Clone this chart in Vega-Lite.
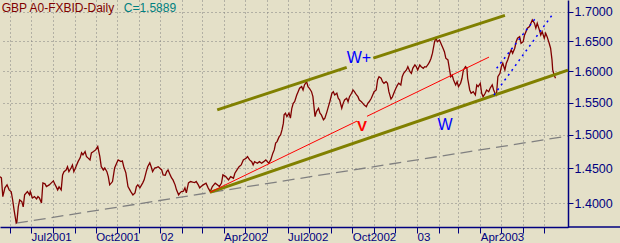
{
  "$schema": "https://vega.github.io/schema/vega-lite/v6.json",
  "width": 568,
  "height": 227,
  "autosize": {"type": "none"},
  "padding": {"left": 0, "top": 0, "right": 52, "bottom": 16},
  "background": "#E4E0C8",
  "config": {"view": {"stroke": null}, "font": "Liberation Sans", "axis": {"labelFont": "Liberation Sans"}},
  "datasets": {
    "price": [
      {"date":"2001-05-18","price":1.4380},{"date":"2001-05-20","price":1.4361},{"date":"2001-05-22","price":1.4091},{"date":"2001-05-25","price":1.4217},{"date":"2001-05-28","price":1.4260},{"date":"2001-05-31","price":1.4188},{"date":"2001-06-03","price":1.4159},{"date":"2001-06-05","price":1.4043},{"date":"2001-06-07","price":1.3902},{"date":"2001-06-10","price":1.3720},{"date":"2001-06-11","price":1.3734},{"date":"2001-06-13","price":1.3944},{"date":"2001-06-15","price":1.4043},{"date":"2001-06-18","price":1.4019},{"date":"2001-06-20","price":1.3944},{"date":"2001-06-22","price":1.4116},{"date":"2001-06-26","price":1.4163},{"date":"2001-06-29","price":1.4116},{"date":"2001-06-30","price":1.4163},
      {"date":"2001-07-03","price":1.4072},{"date":"2001-07-06","price":1.4091},{"date":"2001-07-09","price":1.4058},{"date":"2001-07-11","price":1.4091},{"date":"2001-07-13","price":1.4072},{"date":"2001-07-16","price":1.4000},{"date":"2001-07-18","price":1.4289},{"date":"2001-07-21","price":1.4275},{"date":"2001-07-23","price":1.4236},{"date":"2001-07-27","price":1.4260},{"date":"2001-07-30","price":1.4289},
      {"date":"2001-08-02","price":1.4318},{"date":"2001-08-03","price":1.4289},{"date":"2001-08-06","price":1.4231},{"date":"2001-08-08","price":1.4188},{"date":"2001-08-10","price":1.4231},{"date":"2001-08-13","price":1.4188},{"date":"2001-08-15","price":1.4405},{"date":"2001-08-17","price":1.4452},{"date":"2001-08-20","price":1.4477},{"date":"2001-08-22","price":1.4525},{"date":"2001-08-24","price":1.4452},{"date":"2001-08-27","price":1.4506},{"date":"2001-08-29","price":1.4551},{"date":"2001-08-31","price":1.4452},
      {"date":"2001-09-03","price":1.4525},{"date":"2001-09-06","price":1.4600},{"date":"2001-09-09","price":1.4656},{"date":"2001-09-11","price":1.4731},{"date":"2001-09-13","price":1.4701},{"date":"2001-09-16","price":1.4750},{"date":"2001-09-18","price":1.4675},{"date":"2001-09-20","price":1.4656},{"date":"2001-09-23","price":1.4626},{"date":"2001-09-25","price":1.4731},{"date":"2001-09-28","price":1.4750},
      {"date":"2001-10-01","price":1.4775},{"date":"2001-10-04","price":1.4825},{"date":"2001-10-07","price":1.4675},{"date":"2001-10-09","price":1.4525},{"date":"2001-10-12","price":1.4477},{"date":"2001-10-14","price":1.4506},{"date":"2001-10-17","price":1.4452},{"date":"2001-10-19","price":1.4380},{"date":"2001-10-21","price":1.4260},{"date":"2001-10-25","price":1.4308},{"date":"2001-10-28","price":1.4506},{"date":"2001-10-31","price":1.4581},
      {"date":"2001-11-02","price":1.4626},{"date":"2001-11-06","price":1.4600},{"date":"2001-11-08","price":1.4610},{"date":"2001-11-10","price":1.4525},{"date":"2001-11-13","price":1.4434},{"date":"2001-11-16","price":1.4236},{"date":"2001-11-20","price":1.4163},{"date":"2001-11-23","price":1.4116},{"date":"2001-11-26","price":1.4145},{"date":"2001-11-28","price":1.4236},{"date":"2001-11-30","price":1.4260},
      {"date":"2001-12-03","price":1.4217},{"date":"2001-12-07","price":1.4289},{"date":"2001-12-09","price":1.4332},{"date":"2001-12-12","price":1.4452},{"date":"2001-12-14","price":1.4525},{"date":"2001-12-17","price":1.4581},{"date":"2001-12-19","price":1.4525},{"date":"2001-12-21","price":1.4452},{"date":"2001-12-24","price":1.4506},{"date":"2001-12-27","price":1.4515},{"date":"2001-12-29","price":1.4525},{"date":"2001-12-31","price":1.4506},
      {"date":"2002-01-03","price":1.4477},{"date":"2002-01-05","price":1.4405},{"date":"2002-01-08","price":1.4400},{"date":"2002-01-10","price":1.4452},{"date":"2002-01-12","price":1.4477},{"date":"2002-01-15","price":1.4405},{"date":"2002-01-17","price":1.4361},{"date":"2002-01-19","price":1.4332},{"date":"2002-01-22","price":1.4260},{"date":"2002-01-24","price":1.4188},{"date":"2002-01-27","price":1.4116},{"date":"2002-01-29","price":1.4145},{"date":"2002-01-31","price":1.4163},
      {"date":"2002-02-03","price":1.4170},{"date":"2002-02-05","price":1.4217},{"date":"2002-02-07","price":1.4145},{"date":"2002-02-10","price":1.4289},{"date":"2002-02-13","price":1.4308},{"date":"2002-02-16","price":1.4300},{"date":"2002-02-19","price":1.4293},{"date":"2002-02-21","price":1.4308},{"date":"2002-02-24","price":1.4260},{"date":"2002-02-26","price":1.4217},{"date":"2002-02-28","price":1.4236},
      {"date":"2002-03-03","price":1.4260},{"date":"2002-03-07","price":1.4285},{"date":"2002-03-10","price":1.4217},{"date":"2002-03-13","price":1.4163},{"date":"2002-03-16","price":1.4236},{"date":"2002-03-20","price":1.4285},{"date":"2002-03-23","price":1.4260},{"date":"2002-03-26","price":1.4236},{"date":"2002-03-29","price":1.4285},{"date":"2002-03-31","price":1.4405},
      {"date":"2002-04-04","price":1.4380},{"date":"2002-04-08","price":1.4332},{"date":"2002-04-11","price":1.4380},{"date":"2002-04-15","price":1.4357},{"date":"2002-04-17","price":1.4429},{"date":"2002-04-20","price":1.4477},{"date":"2002-04-23","price":1.4525},{"date":"2002-04-26","price":1.4551},{"date":"2002-04-29","price":1.4626},
      {"date":"2002-05-03","price":1.4651},{"date":"2002-05-05","price":1.4675},{"date":"2002-05-08","price":1.4626},{"date":"2002-05-11","price":1.4600},{"date":"2002-05-13","price":1.4551},{"date":"2002-05-15","price":1.4600},{"date":"2002-05-19","price":1.4576},{"date":"2002-05-22","price":1.4600},{"date":"2002-05-25","price":1.4576},{"date":"2002-05-28","price":1.4600},{"date":"2002-05-31","price":1.4626},
      {"date":"2002-06-04","price":1.4576},{"date":"2002-06-07","price":1.4626},{"date":"2002-06-10","price":1.4726},{"date":"2002-06-12","price":1.4775},{"date":"2002-06-14","price":1.4876},{"date":"2002-06-16","price":1.4900},{"date":"2002-06-19","price":1.4975},{"date":"2002-06-21","price":1.5000},{"date":"2002-06-23","price":1.5077},{"date":"2002-06-25","price":1.5181},{"date":"2002-06-26","price":1.5309},{"date":"2002-06-28","price":1.5335},{"date":"2002-06-30","price":1.5282},
      {"date":"2002-07-03","price":1.5335},{"date":"2002-07-05","price":1.5258},{"date":"2002-07-07","price":1.5412},{"date":"2002-07-09","price":1.5489},{"date":"2002-07-11","price":1.5514},{"date":"2002-07-14","price":1.5621},{"date":"2002-07-16","price":1.5674},{"date":"2002-07-18","price":1.5728},{"date":"2002-07-21","price":1.5754},{"date":"2002-07-23","price":1.5701},{"date":"2002-07-25","price":1.5781},{"date":"2002-07-28","price":1.5834},{"date":"2002-07-30","price":1.5754},
      {"date":"2002-08-01","price":1.5728},{"date":"2002-08-04","price":1.5674},{"date":"2002-08-06","price":1.5594},{"date":"2002-08-09","price":1.5282},{"date":"2002-08-11","price":1.5360},{"date":"2002-08-14","price":1.5412},{"date":"2002-08-16","price":1.5335},{"date":"2002-08-18","price":1.5309},{"date":"2002-08-21","price":1.5232},{"date":"2002-08-23","price":1.5258},{"date":"2002-08-26","price":1.5360},{"date":"2002-08-28","price":1.5437},{"date":"2002-08-30","price":1.5514},
      {"date":"2002-09-02","price":1.5649},{"date":"2002-09-04","price":1.5674},{"date":"2002-09-06","price":1.5621},{"date":"2002-09-09","price":1.5649},{"date":"2002-09-11","price":1.5569},{"date":"2002-09-13","price":1.5542},{"date":"2002-09-16","price":1.5412},{"date":"2002-09-18","price":1.5489},{"date":"2002-09-20","price":1.5542},{"date":"2002-09-23","price":1.5569},{"date":"2002-09-25","price":1.5514},{"date":"2002-09-27","price":1.5594},{"date":"2002-09-30","price":1.5649},
      {"date":"2002-10-02","price":1.5701},{"date":"2002-10-04","price":1.5674},{"date":"2002-10-07","price":1.5621},{"date":"2002-10-09","price":1.5594},{"date":"2002-10-11","price":1.5542},{"date":"2002-10-14","price":1.5514},{"date":"2002-10-16","price":1.5489},{"date":"2002-10-18","price":1.5463},{"date":"2002-10-21","price":1.5437},{"date":"2002-10-23","price":1.5489},{"date":"2002-10-25","price":1.5514},{"date":"2002-10-28","price":1.5569},{"date":"2002-10-30","price":1.5621},
      {"date":"2002-11-01","price":1.5674},{"date":"2002-11-04","price":1.5701},{"date":"2002-11-06","price":1.5861},{"date":"2002-11-08","price":1.5914},{"date":"2002-11-11","price":1.5888},{"date":"2002-11-13","price":1.5834},{"date":"2002-11-15","price":1.5808},{"date":"2002-11-18","price":1.5834},{"date":"2002-11-20","price":1.5808},{"date":"2002-11-22","price":1.5674},{"date":"2002-11-25","price":1.5558},{"date":"2002-11-27","price":1.5589},{"date":"2002-11-29","price":1.5649},
      {"date":"2002-12-02","price":1.5728},{"date":"2002-12-04","price":1.5773},{"date":"2002-12-06","price":1.5808},{"date":"2002-12-09","price":1.5781},{"date":"2002-12-11","price":1.5914},{"date":"2002-12-13","price":1.5968},{"date":"2002-12-17","price":1.6022},{"date":"2002-12-19","price":1.6076},{"date":"2002-12-22","price":1.5994},{"date":"2002-12-24","price":1.5968},{"date":"2002-12-26","price":1.6050},{"date":"2002-12-29","price":1.6104},{"date":"2002-12-31","price":1.6076},
      {"date":"2003-01-02","price":1.6022},{"date":"2003-01-05","price":1.6104},{"date":"2003-01-07","price":1.6076},{"date":"2003-01-10","price":1.6050},{"date":"2003-01-12","price":1.6076},{"date":"2003-01-14","price":1.6070},{"date":"2003-01-17","price":1.6116},{"date":"2003-01-19","price":1.6158},{"date":"2003-01-21","price":1.6215},{"date":"2003-01-23","price":1.6297},{"date":"2003-01-26","price":1.6488},{"date":"2003-01-28","price":1.6546},{"date":"2003-01-30","price":1.6488},
      {"date":"2003-02-02","price":1.6517},{"date":"2003-02-05","price":1.6434},{"date":"2003-02-07","price":1.6380},{"date":"2003-02-09","price":1.6323},{"date":"2003-02-11","price":1.6215},{"date":"2003-02-14","price":1.6187},{"date":"2003-02-16","price":1.6050},{"date":"2003-02-18","price":1.5914},{"date":"2003-02-20","price":1.5941},{"date":"2003-02-22","price":1.5861},{"date":"2003-02-25","price":1.5781},{"date":"2003-02-27","price":1.5834},
      {"date":"2003-03-01","price":1.5754},{"date":"2003-03-04","price":1.5808},{"date":"2003-03-06","price":1.5888},{"date":"2003-03-08","price":1.6022},{"date":"2003-03-11","price":1.6076},{"date":"2003-03-13","price":1.6050},{"date":"2003-03-14","price":1.5888},{"date":"2003-03-17","price":1.5701},{"date":"2003-03-19","price":1.5649},{"date":"2003-03-22","price":1.5674},{"date":"2003-03-25","price":1.5621},{"date":"2003-03-27","price":1.5781},{"date":"2003-03-29","price":1.5754},
      {"date":"2003-04-01","price":1.5808},{"date":"2003-04-03","price":1.5649},{"date":"2003-04-05","price":1.5594},{"date":"2003-04-08","price":1.5649},{"date":"2003-04-10","price":1.5701},{"date":"2003-04-13","price":1.5674},{"date":"2003-04-15","price":1.5728},{"date":"2003-04-18","price":1.5781},{"date":"2003-04-20","price":1.5701},{"date":"2003-04-22","price":1.5649},{"date":"2003-04-24","price":1.5621},{"date":"2003-04-26","price":1.5914},{"date":"2003-04-29","price":1.5968},
      {"date":"2003-05-01","price":1.6076},{"date":"2003-05-03","price":1.6132},{"date":"2003-05-06","price":1.6022},{"date":"2003-05-08","price":1.6132},{"date":"2003-05-10","price":1.6187},{"date":"2003-05-13","price":1.6297},{"date":"2003-05-15","price":1.6352},{"date":"2003-05-17","price":1.6297},{"date":"2003-05-20","price":1.6380},{"date":"2003-05-22","price":1.6488},{"date":"2003-05-24","price":1.6546},{"date":"2003-05-27","price":1.6573},{"date":"2003-05-29","price":1.6462},
      {"date":"2003-06-01","price":1.6488},{"date":"2003-06-03","price":1.6602},{"date":"2003-06-05","price":1.6658},{"date":"2003-06-07","price":1.6716},{"date":"2003-06-10","price":1.6743},{"date":"2003-06-12","price":1.6801},{"date":"2003-06-14","price":1.6857},{"date":"2003-06-17","price":1.6801},{"date":"2003-06-19","price":1.6716},{"date":"2003-06-21","price":1.6801},{"date":"2003-06-24","price":1.6687},{"date":"2003-06-26","price":1.6602},{"date":"2003-06-28","price":1.6658},
      {"date":"2003-07-01","price":1.6546},{"date":"2003-07-03","price":1.6631},{"date":"2003-07-05","price":1.6573},{"date":"2003-07-08","price":1.6462},{"date":"2003-07-10","price":1.6380},{"date":"2003-07-12","price":1.6187},{"date":"2003-07-13","price":1.6022},{"date":"2003-07-15","price":1.5941},{"date":"2003-07-17","price":1.5889}
    ],
    "olive": [
      {"seg":"upper1","date":"2002-03-22T22:00:00Z","price":1.5386},
      {"seg":"upper1","date":"2002-09-23T01:00:00Z","price":1.6066},
      {"seg":"upper2","date":"2002-10-30T21:00:00Z","price":1.6215},
      {"seg":"upper2","date":"2003-05-06T02:00:00Z","price":1.6935},
      {"seg":"lower","date":"2002-03-12T12:00:00Z","price":1.4152},
      {"seg":"lower","date":"2003-08-03T18:00:00Z","price":1.6021}
    ],
    "red": [
      {"seg":"r1","date":"2002-03-12T12:00:00Z","price":1.4152},
      {"seg":"r1","date":"2002-10-07T17:00:00Z","price":1.5213},
      {"seg":"r2","date":"2002-10-21T22:00:00Z","price":1.5287},
      {"seg":"r2","date":"2003-04-13T10:00:00Z","price":1.6233}
    ],
    "gray": [
      {"date":"2001-06-09T17:00:00Z","price":1.3716},
      {"date":"2003-08-03T18:00:00Z","price":1.4984}
    ],
    "blue": [
      {"seg":"b1","date":"2003-04-24T07:00:00Z","price":1.6050},
      {"seg":"b1","date":"2003-06-17T19:00:00Z","price":1.6874},
      {"seg":"b2","date":"2003-04-20T12:00:00Z","price":1.5621},
      {"seg":"b2","date":"2003-07-11T12:00:00Z","price":1.6930}
    ]
  },
  "encoding": {
    "x": {
      "field": "date",
      "type": "temporal",
      "scale": {
        "type": "utc",
        "nice": false,
        "domain": [
          {"year": 2001, "month": 5, "date": 18, "utc": true},
          {"year": 2003, "month": 8, "date": 3, "hours": 18, "utc": true}
        ]
      },
      "axis": {
        "orient": "bottom",
        "title": null,
        "values": [
          {"year":2001,"month":6,"date":1,"utc":true},{"year":2001,"month":7,"date":1,"utc":true},{"year":2001,"month":8,"date":1,"utc":true},{"year":2001,"month":9,"date":1,"utc":true},{"year":2001,"month":10,"date":1,"utc":true},{"year":2001,"month":11,"date":1,"utc":true},{"year":2001,"month":12,"date":1,"utc":true},
          {"year":2002,"month":1,"date":1,"utc":true},{"year":2002,"month":2,"date":1,"utc":true},{"year":2002,"month":3,"date":1,"utc":true},{"year":2002,"month":4,"date":1,"utc":true},{"year":2002,"month":5,"date":1,"utc":true},{"year":2002,"month":6,"date":1,"utc":true},{"year":2002,"month":7,"date":1,"utc":true},{"year":2002,"month":8,"date":1,"utc":true},{"year":2002,"month":9,"date":1,"utc":true},{"year":2002,"month":10,"date":1,"utc":true},{"year":2002,"month":11,"date":1,"utc":true},{"year":2002,"month":12,"date":1,"utc":true},
          {"year":2003,"month":1,"date":1,"utc":true},{"year":2003,"month":2,"date":1,"utc":true},{"year":2003,"month":3,"date":1,"utc":true},{"year":2003,"month":4,"date":1,"utc":true},{"year":2003,"month":5,"date":1,"utc":true},{"year":2003,"month":6,"date":1,"utc":true},{"year":2003,"month":7,"date":1,"utc":true}
        ],
        "labelExpr": "(utcyear(datum.value) == 2003 && utcmonth(datum.value) > 3) ? '' : (utcmonth(datum.value) == 0 ? utcFormat(datum.value, '%y') : (utcmonth(datum.value) % 3 == 0 ? utcFormat(datum.value, '%b%Y') : ''))",
        "labelAlign": "left",
        "labelBaseline": "top",
        "labelPadding": -2,
        "labelDx": 1,
        "labelFontSize": 11.5,
        "labelColor": "#000080",
        "labelOverlap": false,
        "labelFlush": false,
        "labelBound": false,
        "tickColor": "#000080",
        "tickSize": 6,
        "domainColor": "#000080",
        "domainWidth": 1.5,
        "grid": true,
        "gridColor": "#808080",
        "gridDash": [1, 3]
      }
    },
    "y": {
      "field": "price",
      "type": "quantitative",
      "scale": {"type": "log", "domain": [1.36634, 1.7201], "nice": false, "zero": false},
      "axis": {
        "orient": "right",
        "title": null,
        "values": [1.4, 1.45, 1.5, 1.55, 1.6, 1.65, 1.7],
        "format": ".4f",
        "labelFontSize": 12.5,
        "labelColor": "#000080",
        "labelPadding": 1,
        "labelBaseline": "middle",
        "tickColor": "#000080",
        "tickSize": 5,
        "domainColor": "#000080",
        "domainWidth": 1.5,
        "grid": true,
        "gridColor": "#808080",
        "gridDash": [1, 3]
      }
    }
  },
  "layer": [
    {"data": {"name": "gray"}, "mark": {"type": "line", "color": "#808080", "strokeWidth": 1.3, "strokeDash": [12, 6]}, "encoding": {}},
    {"data": {"name": "price"}, "mark": {"type": "line", "color": "#800000", "strokeWidth": 1.3}, "encoding": {}},
    {"data": {"name": "olive"}, "mark": {"type": "line", "color": "#808000", "strokeWidth": 3}, "encoding": {"detail": {"field": "seg"}}},
    {"data": {"name": "red"}, "mark": {"type": "line", "color": "#FF0000", "strokeWidth": 1}, "encoding": {"detail": {"field": "seg"}}},
    {"data": {"name": "blue"}, "mark": {"type": "line", "color": "#0000FF", "strokeWidth": 1.5, "strokeDash": [2, 4]}, "encoding": {"detail": {"field": "seg"}}},
    {"data": {"values": [{"date": "2003-08-03T18:00:00Z", "date2": "2003-10-16T17:00:00Z", "price": 1.36634}]}, "mark": {"type": "rule", "color": "#000080", "strokeWidth": 1.5, "clip": false}, "encoding": {"x2": {"field": "date2"}}},
    {"data": {"values": [{"date": "2002-10-10T12:00:00Z", "price": 1.6215, "label": "W+"}]}, "mark": {"type": "text", "color": "#0000FF", "fontSize": 16, "align": "center", "baseline": "middle"}, "encoding": {"text": {"field": "label"}}},
    {"data": {"values": [{"date": "2003-02-09T19:00:00Z", "price": 1.5147, "label": "W"}]}, "mark": {"type": "text", "color": "#0000FF", "fontSize": 16, "align": "center", "baseline": "middle"}, "encoding": {"text": {"field": "label"}}},
    {"data": {"values": [{"date": "2002-10-14T19:00:00Z", "price": 1.5139, "label": "V"}]}, "mark": {"type": "text", "color": "#FF0000", "fontSize": 15, "fontWeight": "bold", "align": "center", "baseline": "middle"}, "encoding": {"text": {"field": "label"}}},
    {"data": {"values": [{"date": "2001-05-20T10:00:00Z", "price": 1.7069, "label": "GBP A0-FXBID-Daily"}]}, "mark": {"type": "text", "color": "#800000", "fontSize": 12, "align": "left", "baseline": "middle"}, "encoding": {"text": {"field": "label"}}},
    {"data": {"values": [{"date": "2001-11-10T00:00:00Z", "price": 1.7069, "label": "C=1.5889"}]}, "mark": {"type": "text", "color": "#008080", "fontSize": 12, "align": "left", "baseline": "middle"}, "encoding": {"text": {"field": "label"}}}
  ]
}
